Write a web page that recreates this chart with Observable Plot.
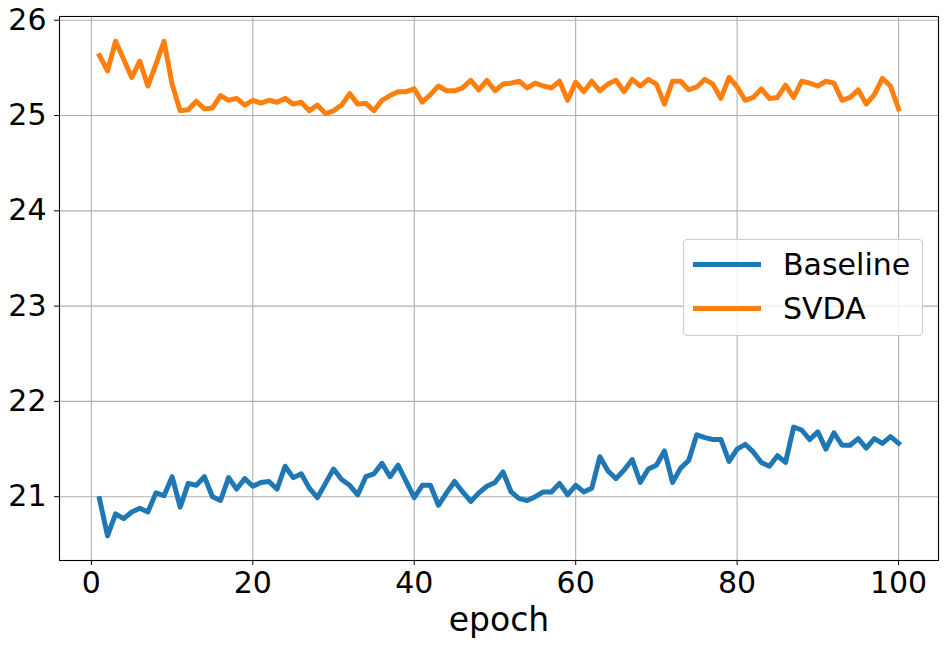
<!DOCTYPE html>
<html>
<head>
<meta charset="utf-8">
<script src="https://cdn.jsdelivr.net/npm/d3@7"></script>
<script src="https://cdn.jsdelivr.net/npm/@observablehq/plot@0.6"></script>
<style>
  html, body { margin: 0; padding: 0; background: #fff; }
  #wrap { position: relative; width: 948px; height: 647px; font-family: "DejaVu Sans", sans-serif; }
  #legend { position: absolute; left: 683px; top: 239px; width: 238px; height: 95px;
            border: 1px solid #cccccc; border-radius: 4px; background: rgba(255,255,255,0.8); }
  .sw { position: absolute; left: 9px; width: 68px; height: 5px; }
  .lab { position: absolute; left: 99px; font-size: 30px; line-height: 30px; color: #000; white-space: nowrap; }
</style>
</head>
<body>
<div id="wrap"></div>
<script>
const epochs = d3.range(1, 101);
const baseline = [
  20.98, 20.59, 20.82, 20.77, 20.84, 20.88, 20.84, 21.04, 21.01, 21.21,
  20.89, 21.14, 21.12, 21.21, 21.00, 20.96, 21.20, 21.08, 21.19, 21.11,
  21.15, 21.16, 21.08, 21.32, 21.20, 21.24, 21.09, 20.99, 21.14, 21.29,
  21.18, 21.12, 21.02, 21.21, 21.24, 21.35, 21.21, 21.33, 21.16, 20.99,
  21.12, 21.12, 20.91, 21.04, 21.16, 21.05, 20.95, 21.04, 21.11, 21.15,
  21.26, 21.05, 20.98, 20.96, 21.00, 21.05, 21.05, 21.14, 21.02, 21.12,
  21.05, 21.09, 21.42, 21.27, 21.19, 21.28, 21.39, 21.15, 21.29, 21.33,
  21.48, 21.15, 21.30, 21.38, 21.65, 21.62, 21.60, 21.60, 21.37, 21.50,
  21.55, 21.47, 21.36, 21.32, 21.43, 21.36, 21.73, 21.70, 21.60, 21.68,
  21.50, 21.67, 21.54, 21.54, 21.61, 21.51, 21.61, 21.56, 21.63, 21.56
];
const svda = [
  25.63, 25.47, 25.78, 25.59, 25.40, 25.57, 25.31, 25.54, 25.78, 25.33,
  25.05, 25.06, 25.15, 25.07, 25.08, 25.21, 25.16, 25.18, 25.11, 25.16,
  25.13, 25.16, 25.14, 25.18, 25.12, 25.14, 25.05, 25.11, 25.02, 25.05,
  25.11, 25.23, 25.12, 25.13, 25.05, 25.16, 25.21, 25.25, 25.25, 25.28,
  25.14, 25.22, 25.31, 25.26, 25.26, 25.29, 25.37, 25.27, 25.37, 25.26,
  25.33, 25.34, 25.36, 25.29, 25.34, 25.31, 25.29, 25.36, 25.16, 25.35,
  25.25, 25.36, 25.26, 25.33, 25.37, 25.25, 25.38, 25.31, 25.38, 25.33,
  25.12, 25.36, 25.36, 25.27, 25.30, 25.38, 25.33, 25.18, 25.40, 25.30,
  25.16, 25.19, 25.28, 25.18, 25.19, 25.32, 25.19, 25.36, 25.34, 25.31,
  25.36, 25.34, 25.16, 25.19, 25.27, 25.12, 25.22, 25.39, 25.31, 25.07
];
const seriesNames = ["Baseline", "SVDA"];
const seriesColors = ["#1f77b4", "#ff7f0e"];
const xTicks = [0, 20, 40, 60, 80, 100];
const yTicks = [21, 22, 23, 24, 25, 26];
const xLabel = "epoch";

const rows = [];
[baseline, svda].forEach((vals, s) => {
  vals.forEach((v, i) => rows.push({epoch: epochs[i], value: v, series: seriesNames[s]}));
});

const all = baseline.concat(svda);
const ymin = d3.min(all), ymax = d3.max(all);
const ypad = (ymax - ymin) * 0.05;
const xmin = d3.min(epochs), xmax = d3.max(epochs);
const xpad = (xmax - xmin) * 0.05;

const chart = Plot.plot({
  width: 948,
  height: 647,
  marginLeft: 59,
  marginRight: 10,
  marginTop: 16,
  marginBottom: 87,
  style: {fontFamily: "DejaVu Sans, sans-serif", color: "#000", background: "#fff"},
  x: {domain: [xmin - xpad, xmax + xpad]},
  y: {domain: [ymin - ypad, ymax + ypad]},
  color: {domain: seriesNames, range: seriesColors},
  marks: [
    Plot.gridX(xTicks, {stroke: "#b0b0b0", strokeOpacity: 1, strokeWidth: 1.1}),
    Plot.gridY(yTicks, {stroke: "#b0b0b0", strokeOpacity: 1, strokeWidth: 1.1}),
    Plot.line(rows, {x: "epoch", y: "value", z: "series", stroke: "series",
      strokeWidth: 5, strokeLinejoin: "round", strokeLinecap: "square"}),
    Plot.frame({stroke: "#000", strokeWidth: 1.1}),
    Plot.axisX({ticks: xTicks, tickSize: 5, tickPadding: 6.5, fontSize: 30, label: null, tickFormat: d => String(d)}),
    Plot.axisY({ticks: yTicks, tickSize: 5, tickPadding: 8, fontSize: 30, label: null, tickFormat: d => String(d)}),
    Plot.text([xLabel], {text: d => d, frameAnchor: "bottom", lineAnchor: "bottom", dy: 70, fontSize: 33, fill: "#000"})
  ]
});

const wrap = document.getElementById("wrap");
wrap.appendChild(chart);

const legend = document.createElement("div");
legend.id = "legend";
seriesNames.forEach((name, i) => {
  const sw = document.createElement("div");
  sw.className = "sw";
  sw.style.background = seriesColors[i];
  sw.style.top = (22 + i * 43.5) + "px";
  legend.appendChild(sw);
  const lab = document.createElement("div");
  lab.className = "lab";
  lab.textContent = name;
  lab.style.top = (10 + i * 43.5) + "px";
  legend.appendChild(lab);
});
wrap.appendChild(legend);
</script>
</body>
</html>
